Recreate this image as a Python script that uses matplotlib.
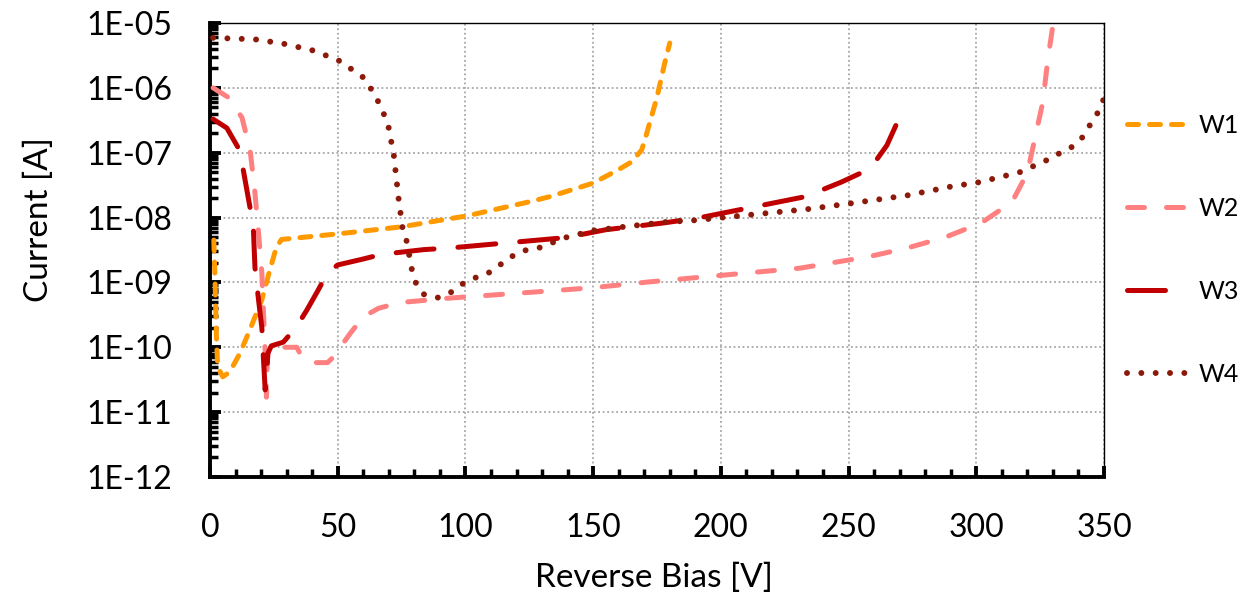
import math
import matplotlib
matplotlib.use("Agg")
import matplotlib.pyplot as plt
from matplotlib.ticker import FixedLocator, FuncFormatter, MultipleLocator, LogLocator, NullFormatter

plt.rcParams['font.family'] = ['Lato', 'DejaVu Sans']

# ---- data ----
w1_v = [1.5, 2, 2.5, 3, 5, 7.8, 11.8, 15.7, 20.3, 23.5, 26, 28, 50, 75, 93, 100, 125, 133, 150, 160, 165, 169, 171, 175, 178, 180]
w1_i = [4.5e-9, 1e-9, 1.5e-10, 5e-11, 3.5e-11, 4.2e-11, 8.2e-11, 1.9e-10, 5.4e-10, 1.6e-9, 3.5e-9, 4.6e-9,
        5.6e-9, 7.2e-9, 9.5e-9, 1.05e-8, 1.75e-8, 2.1e-8, 3.4e-8, 5.5e-8, 7.2e-8, 1.1e-7, 2e-7, 7.2e-7, 2.4e-6, 4.9e-6]

w2_v = [1.2, 7, 12.5, 15.7, 17.6, 19, 20.3, 20.9, 21.6, 22.1, 22.4, 23, 27, 34, 36, 39, 46, 49, 51, 55, 60, 66,
        74.5, 93, 133, 150, 172, 231, 258, 273, 288, 302, 314, 320, 323, 326, 328, 330]
w2_i = [1e-6, 7.2e-7, 3.5e-7, 1.1e-7, 2.4e-8, 5.8e-9, 1.4e-9, 3.8e-10, 8.3e-11, 1.7e-11, 6e-11, 1e-10, 1e-10,
        1e-10, 7e-11, 5.8e-11, 5.8e-11, 7.5e-11, 1e-10, 1.66e-10, 2.95e-10, 4e-10, 4.9e-10, 5.7e-10, 7.4e-10,
        8.3e-10, 1.02e-9, 1.66e-9, 2.5e-9, 3.4e-9, 5e-9, 8.3e-9, 1.74e-8, 4.9e-8, 1.7e-7, 5.9e-7, 2.7e-6, 9.3e-6]

w3_v = [1.2, 6.6, 11, 13, 15.7, 17, 17.6, 19, 20.3, 20.9, 21.6, 22.3, 22.6, 24, 28.7, 34, 38, 42, 46, 50, 60, 67,
        83.5, 94, 139, 155, 178, 192, 233, 247, 255, 260, 265, 269, 271]
w3_i = [3.3e-7, 2.4e-7, 1.2e-7, 5.5e-8, 1.4e-8, 6.5e-9, 1.7e-9, 5.4e-10, 2e-10, 7e-11, 2.2e-11, 4e-11, 8e-11,
        1.05e-10, 1.2e-10, 2.1e-10, 3.8e-10, 7.2e-10, 1.4e-9, 1.86e-9, 2.3e-9, 2.7e-9, 3.2e-9, 3.4e-9, 4.9e-9,
        6.5e-9, 8.3e-9, 1e-8, 2.1e-8, 3.5e-8, 4.9e-8, 6.9e-8, 1.3e-7, 2.9e-7, 3.5e-7]

w4_v = [1.2, 17.6, 28.7, 40, 50, 59.6, 62.8, 66, 68, 70, 72, 72.6, 73.8, 75.3, 77, 79, 80.5, 83.5, 89, 94, 98.9,
        103.6, 109, 113.5, 118, 123, 128.7, 134, 139, 150, 162, 178, 190, 234, 251, 273, 290, 301, 317, 328, 333,
        338, 342, 345, 348, 350]
w4_i = [5.9e-6, 5.6e-6, 4.8e-6, 3.8e-6, 2.7e-6, 1.5e-6, 1e-6, 6e-7, 4e-7, 2.4e-7, 8.9e-8, 5.4e-8, 2e-8, 7.2e-9,
        4.3e-9, 1.6e-9, 1e-9, 6.6e-10, 5.8e-10, 6.9e-10, 9.5e-10, 1.17e-9, 1.4e-9, 1.86e-9, 2.5e-9, 3.1e-9,
        3.4e-9, 4.1e-9, 4.9e-9, 6.3e-9, 7.2e-9, 8.5e-9, 9.1e-9, 1.35e-8, 1.66e-8, 2.2e-8, 3e-8, 3.5e-8, 5e-8,
        7.8e-8, 1e-7, 1.26e-7, 1.8e-7, 2.9e-7, 4.4e-7, 6.9e-7]

labels = ["W1", "W2", "W3", "W4"]
y_ticks = [1e-12, 1e-11, 1e-10, 1e-9, 1e-8, 1e-7, 1e-6, 1e-5]
x_ticks = [0, 50, 100, 150, 200, 250, 300, 350]

# ---- figure ----
fig = plt.figure(figsize=(12.44, 5.99), dpi=100)
ax = fig.add_axes([210/1244, 1-477/599, (1104-210)/1244, (477-23)/599])

ax.plot(w1_v, w1_i, color="#FF9900", lw=3.6, linestyle=(0, (2.2, 2.2)), dash_capstyle='round', label=labels[0], zorder=3)
ax.plot(w2_v, w2_i, color="#FF8080", lw=3.6, linestyle=(0, (3.4, 4.4)), dash_capstyle='round', label=labels[1], zorder=3)
ax.plot(w3_v, w3_i, color="#C00000", lw=3.6, linestyle=(0, (7.6, 4.8)), dash_capstyle='round', label=labels[2], zorder=3)
ax.plot(w4_v, w4_i, color="#8C1A0B", lw=4.3, linestyle=(0, (0.001, 2.4)), dash_capstyle='round', label=labels[3], zorder=3)

ax.set_yscale('log')
ax.set_xlim(0, 350)
ax.set_ylim(1e-12, 1e-5)
ax.yaxis.set_major_locator(FixedLocator(y_ticks))
ax.yaxis.set_minor_locator(LogLocator(base=10, subs=range(2, 10), numticks=20))
ax.yaxis.set_minor_formatter(NullFormatter())
ax.yaxis.set_major_formatter(FuncFormatter(lambda v, p: "1E-%02d" % round(-math.log10(v))))
ax.xaxis.set_major_locator(FixedLocator(x_ticks))
ax.xaxis.set_minor_locator(MultipleLocator(10))

ax.grid(True, which='major', color="#A6A6A6", lw=1.3, linestyle=(0, (1, 1.5)), zorder=0)
ax.set_axisbelow(True)

for s in ['left', 'bottom']:
    ax.spines[s].set_linewidth(2.8)
for s in ['top', 'right']:
    ax.spines[s].set_linewidth(1.0)

ax.tick_params(axis='both', which='major', direction='in', length=8, width=2.8, labelsize=23)
ax.tick_params(axis='both', which='minor', direction='in', length=6, width=2.5)
ax.tick_params(axis='y', which='major', pad=27)
ax.tick_params(axis='x', which='major', pad=26)

ax.set_xlabel("Reverse Bias [V]", fontsize=24)
ax.set_ylabel("Current [A]", fontsize=24)
ax.xaxis.set_label_coords(0.497, -0.189)
ax.yaxis.set_label_coords(-0.1745, 0.566)

leg = ax.legend(loc='center left', bbox_to_anchor=(0.0, 0.501), bbox_transform=ax.transAxes, frameon=False,
                fontsize=18, handlelength=2.4, labelspacing=2.4, handletextpad=0.45, borderaxespad=0.0,
                borderpad=0.0)
# place legend right of the plot area
leg.set_bbox_to_anchor((1.0 + 23/894, 0.501), transform=ax.transAxes)

fig.savefig("out.png", dpi=100)
